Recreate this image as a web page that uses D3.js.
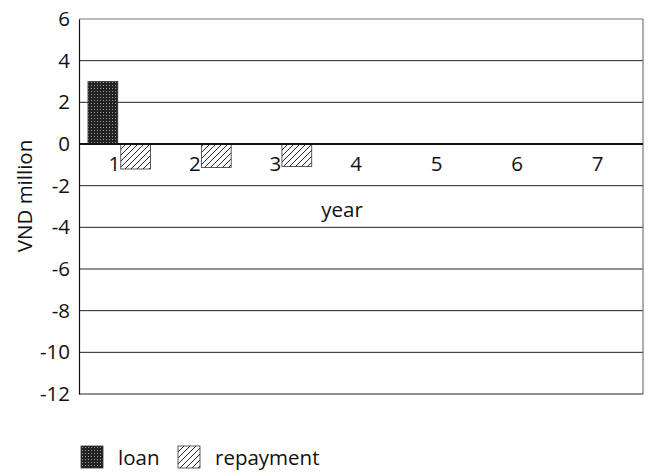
<!DOCTYPE html>
<html>
<head>
<meta charset="utf-8">
<script src="https://cdn.jsdelivr.net/npm/d3@7"></script>
<style>
  body { margin: 0; background: #fff; }
  text { font-family: "Open Sans", "Noto Sans", sans-serif; fill: #111; }
</style>
</head>
<body>
<svg id="chart" width="648" height="472"></svg>
<script>
// Loan drawdown and repayments per year (VND million)
const years = ["1", "2", "3", "4", "5", "6", "7"];
const loan = [3, 0, 0, 0, 0, 0, 0];
const repayment = [-1.2, -1.13, -1.08, 0, 0, 0, 0];
const yTicks = [6, 4, 2, 0, -2, -4, -6, -8, -10, -12];
const seriesNames = ["loan", "repayment"];

const FS = 20.5;
const svg = d3.select("#chart");
const m = { left: 79, top: 19, right: 643, bottom: 394 };

const x = d3.scaleBand().domain(years).range([m.left, m.right]).padding(0);
const y = d3.scaleLinear().domain([-12, 6]).range([m.bottom, m.top]);

// Fill patterns: dense dotted dark for loan, diagonal hatch for repayment
const defs = svg.append("defs");
const dots = defs.append("pattern").attr("id", "dots")
  .attr("patternUnits", "userSpaceOnUse").attr("width", 3).attr("height", 3);
dots.append("rect").attr("width", 3).attr("height", 3).attr("fill", "#222");
dots.append("rect").attr("x", 1).attr("y", 1).attr("width", 1).attr("height", 1).attr("fill", "#9a9a9a");

const hatch = defs.append("pattern").attr("id", "hatch")
  .attr("patternUnits", "userSpaceOnUse").attr("width", 6).attr("height", 6);
hatch.append("rect").attr("width", 6).attr("height", 6).attr("fill", "#fff");
hatch.append("path").attr("d", "M-1,7 L7,-1 M-1,1 L1,-1 M5,7 L7,5")
  .attr("stroke", "#111").attr("stroke-width", 0.9);

// Horizontal gridlines
svg.append("g").selectAll("line")
  .data(yTicks.filter(d => d !== 0 && d !== 6 && d !== -12))
  .join("line")
  .attr("x1", m.left).attr("x2", m.right)
  .attr("y1", d => y(d)).attr("y2", d => y(d))
  .attr("stroke", "#222").attr("stroke-width", 1);

// Plot frame
svg.append("line").attr("x1", m.left).attr("x2", m.right).attr("y1", y(6)).attr("y2", y(6))
  .attr("stroke", "#777").attr("stroke-width", 1.2);
svg.append("line").attr("x1", m.right).attr("x2", m.right).attr("y1", y(6)).attr("y2", y(-12))
  .attr("stroke", "#777").attr("stroke-width", 1.2);
svg.append("line").attr("x1", m.left).attr("x2", m.right).attr("y1", y(-12)).attr("y2", y(-12))
  .attr("stroke", "#222").attr("stroke-width", 1);

// Bars
const barW = x.bandwidth() * 0.37;
const gap = 3;
const groupW = barW * 2 + gap;

svg.append("g").selectAll("rect")
  .data(years.map((yr, i) => ({ yr, v: loan[i] })).filter(d => d.v !== 0))
  .join("rect")
  .attr("x", d => x(d.yr) + (x.bandwidth() - groupW) / 2)
  .attr("y", d => y(Math.max(0, d.v)))
  .attr("width", barW)
  .attr("height", d => Math.abs(y(d.v) - y(0)))
  .attr("fill", "url(#dots)").attr("stroke", "#333").attr("stroke-width", 0.8);

svg.append("g").selectAll("rect")
  .data(years.map((yr, i) => ({ yr, v: repayment[i] })).filter(d => d.v !== 0))
  .join("rect")
  .attr("x", d => x(d.yr) + (x.bandwidth() - groupW) / 2 + barW + gap)
  .attr("y", d => y(Math.max(0, d.v)))
  .attr("width", barW)
  .attr("height", d => Math.abs(y(d.v) - y(0)))
  .attr("fill", "url(#hatch)").attr("stroke", "#333").attr("stroke-width", 0.8);

// Zero line drawn over the bars
svg.append("line").attr("x1", m.left).attr("x2", m.right).attr("y1", y(0)).attr("y2", y(0))
  .attr("stroke", "#111").attr("stroke-width", 1.8);

// Y axis (plain hyphen for negatives)
const yAxis = svg.append("g").attr("transform", `translate(${m.left},0)`)
  .call(d3.axisLeft(y).tickValues(yTicks).tickSize(0).tickPadding(9).tickFormat(d => String(d)));
yAxis.select(".domain").attr("stroke", "#111").attr("stroke-width", 1.2);
yAxis.selectAll("text").attr("font-size", FS).attr("fill", "#111")
  .style("font-family", '"Open Sans", "Noto Sans", sans-serif');

// Category labels just below the zero line
svg.append("g").selectAll("text")
  .data(years).join("text")
  .attr("x", d => x(d) + x.bandwidth() / 2 - 5)
  .attr("y", y(0) + 27)
  .attr("text-anchor", "middle").attr("font-size", FS)
  .text(d => d);

// Axis titles
svg.append("text").attr("x", 342).attr("y", 217).attr("text-anchor", "middle")
  .attr("font-size", FS).text("year");
svg.append("text").attr("transform", "translate(32,196) rotate(-90)")
  .attr("text-anchor", "middle").attr("font-size", FS).text("VND million");

// Legend
const legend = svg.append("g").attr("transform", "translate(81,446)");
const fills = ["url(#dots)", "url(#hatch)"];
const legX = [0, 97];
seriesNames.forEach((name, i) => {
  const g = legend.append("g").attr("transform", `translate(${legX[i]},0)`);
  g.append("rect").attr("width", 22).attr("height", 22)
    .attr("fill", fills[i]).attr("stroke", "#333").attr("stroke-width", 0.8);
  g.append("text").attr("x", 37).attr("y", 19).attr("font-size", FS).text(name);
});
</script>
</body>
</html>
